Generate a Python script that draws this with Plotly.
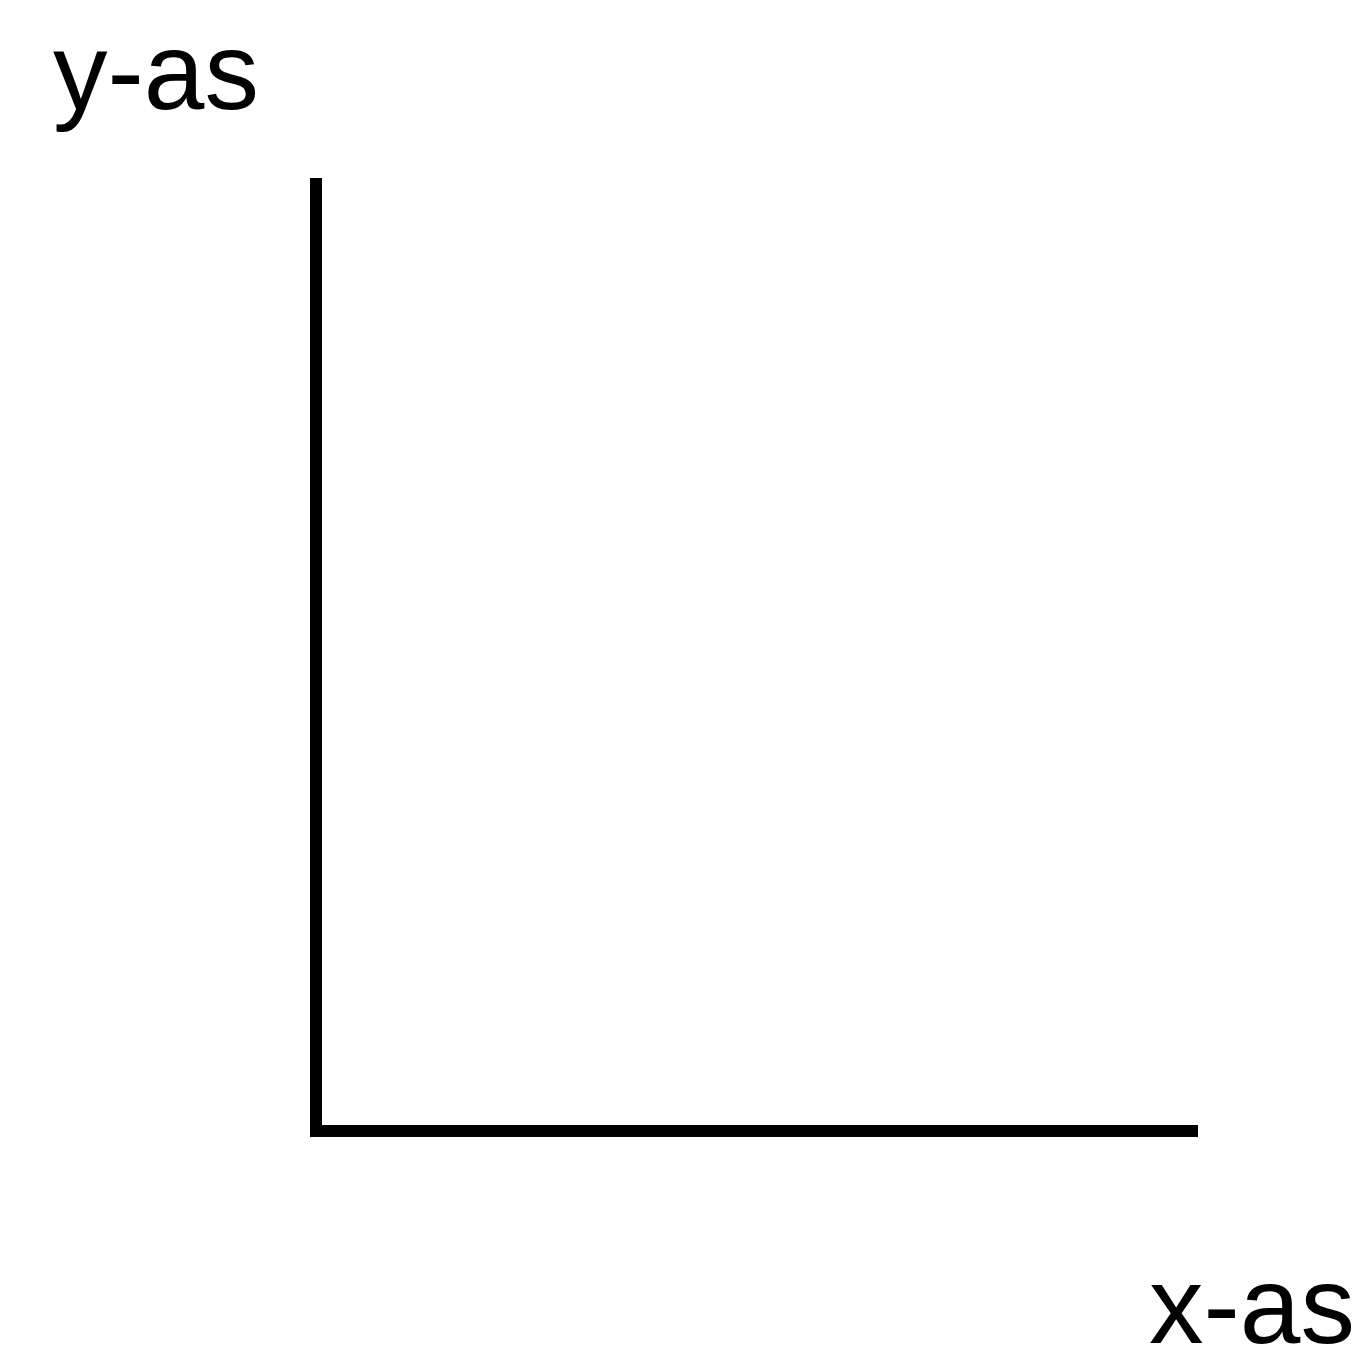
import plotly.graph_objects as go

# Axis labels (Dutch: "as" = axis)
x_label = "x-as"
y_label = "y-as"

# Empty value ranges: the chart only shows the two axes
x_range = [0, 10]
y_range = [0, 10]

W, H = 1364, 1367
L, R, T, B = 322, 166, 178, 242
pw, ph = W - L - R, H - T - B

def px_x(px):
    return (px - L) / pw

def px_y(py):
    return 1 - (py - T) / ph

fig = go.Figure()
fig.add_trace(go.Scatter(x=[], y=[], mode="lines", showlegend=False))

axis_style = dict(
    showline=True, linewidth=12, linecolor="black",
    showgrid=False, zeroline=False, showticklabels=False, ticks="",
)
fig.update_xaxes(range=x_range, **axis_style)
fig.update_yaxes(range=y_range, **axis_style)

label_font = dict(family="Liberation Sans, Arial, sans-serif", size=109, color="black")
fig.add_annotation(text=y_label, xref="paper", yref="paper",
                   x=px_x(51), y=px_y(71), xanchor="left", yanchor="middle",
                   showarrow=False, font=label_font)
fig.add_annotation(text=x_label, xref="paper", yref="paper",
                   x=px_x(1357), y=px_y(1305), xanchor="right", yanchor="middle",
                   showarrow=False, font=label_font)

fig.update_layout(
    width=W, height=H,
    margin=dict(l=L, r=R, t=T, b=B),
    paper_bgcolor="white", plot_bgcolor="white",
)

fig.write_html("out.html")
